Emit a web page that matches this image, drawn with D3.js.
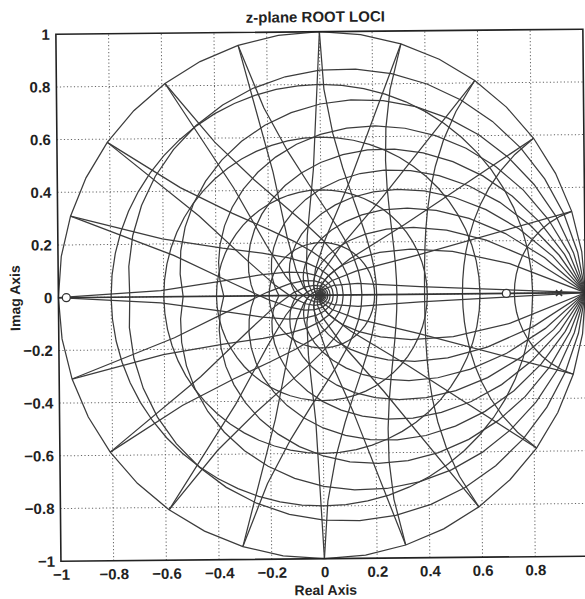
<!DOCTYPE html>
<html>
<head>
<meta charset="utf-8">
<script src="https://cdn.jsdelivr.net/npm/d3@7"></script>
<style>
  body { margin: 0; background: #fff; }
  text { font-family: "Liberation Sans", Arial, sans-serif; fill: #222; font-weight: bold; }
</style>
</head>
<body>
<script>
// damping ratios and natural frequencies (fraction of pi) of the z-plane grid
var zetaVals = [0, 0.1, 0.2, 0.3, 0.4, 0.5, 0.6, 0.7, 0.8, 0.9];
var wnFracs = [0, 0.1, 0.2, 0.3, 0.4, 0.5, 0.6, 0.7, 0.8, 0.9, 1.0,
               1.1, 1.2, 1.3, 1.4, 1.5, 1.6, 1.7, 1.8, 1.9, 2.0];
// root loci circles |z| = r
var lociRadii = [0.2, 0.4, 0.6, 0.8];
// open loop zeros and poles
var zerosRe = [-0.97, 0.7];
var polesRe = [0.9, 1.0];
var tickVals = [-1, -0.8, -0.6, -0.4, -0.2, 0, 0.2, 0.4, 0.6, 0.8, 1];

var w = 585, h = 599;
var svg = d3.select("body").append("svg")
    .attr("width", w)
    .attr("height", h);

// the scanned figure is turned by about half a degree
var chart = svg.append("g")
    .attr("transform", "rotate(-0.55, 321.9, 295.2)");

var x = d3.scaleLinear().domain([-1, 1]).range([58.4, 585.4]);
var y = d3.scaleLinear().domain([-1, 1]).range([558.7, 31.7]);

// dotted grid
var grid = chart.append("g").attr("class", "grid");
grid.selectAll(".gx").data(tickVals.slice(1, -1)).enter().append("line")
    .attr("x1", function(d){ return x(d); }).attr("x2", function(d){ return x(d); })
    .attr("y1", y(-1)).attr("y2", y(1))
    .style("stroke", "#666").style("stroke-width", 1).style("stroke-dasharray", "1.2,2.3");
grid.selectAll(".gy").data(tickVals.slice(1, -1)).enter().append("line")
    .attr("y1", function(d){ return y(d); }).attr("y2", function(d){ return y(d); })
    .attr("x1", x(-1)).attr("x2", x(1))
    .style("stroke", "#666").style("stroke-width", 1).style("stroke-dasharray", "1.2,2.3");

var line = d3.line()
    .x(function(p){ return x(p[0]); })
    .y(function(p){ return y(p[1]); });

// constant damping spirals, t from 0 to pi in pi/20 steps
var steps = d3.range(0, 21).map(function(i){ return i * Math.PI / 20; });
var curves = [];
zetaVals.forEach(function(z){
    var m = z / Math.sqrt(1 - z * z);
    var pts = steps.map(function(t){
        var r = Math.exp(-m * t);
        return [r * Math.cos(t), r * Math.sin(t)];
    });
    curves.push(pts);
    curves.push(pts.map(function(p){ return [p[0], -p[1]]; }));
});

// constant natural frequency curves, theta from pi/2 to pi
var thetas = d3.range(0, 11).map(function(i){ return Math.PI / 2 + i * Math.PI / 20; });
wnFracs.forEach(function(f){
    var wn = f * Math.PI;
    var pts = thetas.map(function(th){
        var r = Math.exp(wn * Math.cos(th)), a = wn * Math.sin(th);
        return [r * Math.cos(a), r * Math.sin(a)];
    });
    curves.push(pts);
    curves.push(pts.map(function(p){ return [p[0], -p[1]]; }));
});

// loci circles
var ring = d3.range(0, 61).map(function(i){ return i * Math.PI / 30; });
lociRadii.forEach(function(r){
    curves.push(ring.map(function(t){ return [r * Math.cos(t), r * Math.sin(t)]; }));
});

var plot = chart.append("g").attr("class", "curves");
plot.selectAll("path").data(curves).enter().append("path")
    .attr("d", line)
    .style("fill", "none")
    .style("stroke", "#3c3c3c")
    .style("stroke-width", 1.25);

// real axis
plot.append("line")
    .attr("x1", x(-1)).attr("x2", x(1)).attr("y1", y(0)).attr("y2", y(0))
    .style("stroke", "#333").style("stroke-width", 1.6);

// zeros and poles
chart.selectAll(".zero").data(zerosRe).enter().append("circle")
    .attr("cx", function(d){ return x(d); }).attr("cy", y(0)).attr("r", 4)
    .style("fill", "#fff").style("stroke", "#333").style("stroke-width", 1.3);
chart.selectAll(".pole").data(polesRe).enter().append("path")
    .attr("transform", function(d){ return "translate(" + x(d) + "," + y(0) + ")"; })
    .attr("d", "M-3,-3L3,3M-3,3L3,-3")
    .style("stroke", "#333").style("stroke-width", 1.6);

// axes box and ticks
chart.append("rect")
    .attr("x", x(-1)).attr("y", y(1))
    .attr("width", x(1) - x(-1)).attr("height", y(-1) - y(1))
    .style("fill", "none").style("stroke", "#222").style("stroke-width", 1.6);

var xAxis = chart.append("g").attr("transform", "translate(0," + y(-1) + ")")
    .call(d3.axisBottom(x).tickValues(tickVals.slice(0, -1)).tickSize(0).tickPadding(8)
        .tickFormat(function(d){ return d3.format("")(d); }));
var yAxis = chart.append("g").attr("transform", "translate(" + x(-1) + ",0)")
    .call(d3.axisLeft(y).tickValues(tickVals).tickSize(0).tickPadding(6)
        .tickFormat(function(d){ return d3.format("")(d); }));
[xAxis, yAxis].forEach(function(a){
    a.select(".domain").remove();
    a.selectAll("text").style("font-size", "15px")
        .style("font-family", "'Liberation Sans', Arial, sans-serif").attr("fill", "#222");
});

chart.append("text").attr("x", 318).attr("y", 22).attr("text-anchor", "middle")
    .style("font-size", "15px").text("z-plane ROOT LOCI");
chart.append("text").attr("x", 323).attr("y", 595).attr("text-anchor", "middle")
    .style("font-size", "14px").text("Real Axis");
chart.append("text").attr("transform", "translate(20," + y(0) + ") rotate(-90)")
    .attr("text-anchor", "middle").style("font-size", "14px").text("Imag Axis");
</script>
</body>
</html>
